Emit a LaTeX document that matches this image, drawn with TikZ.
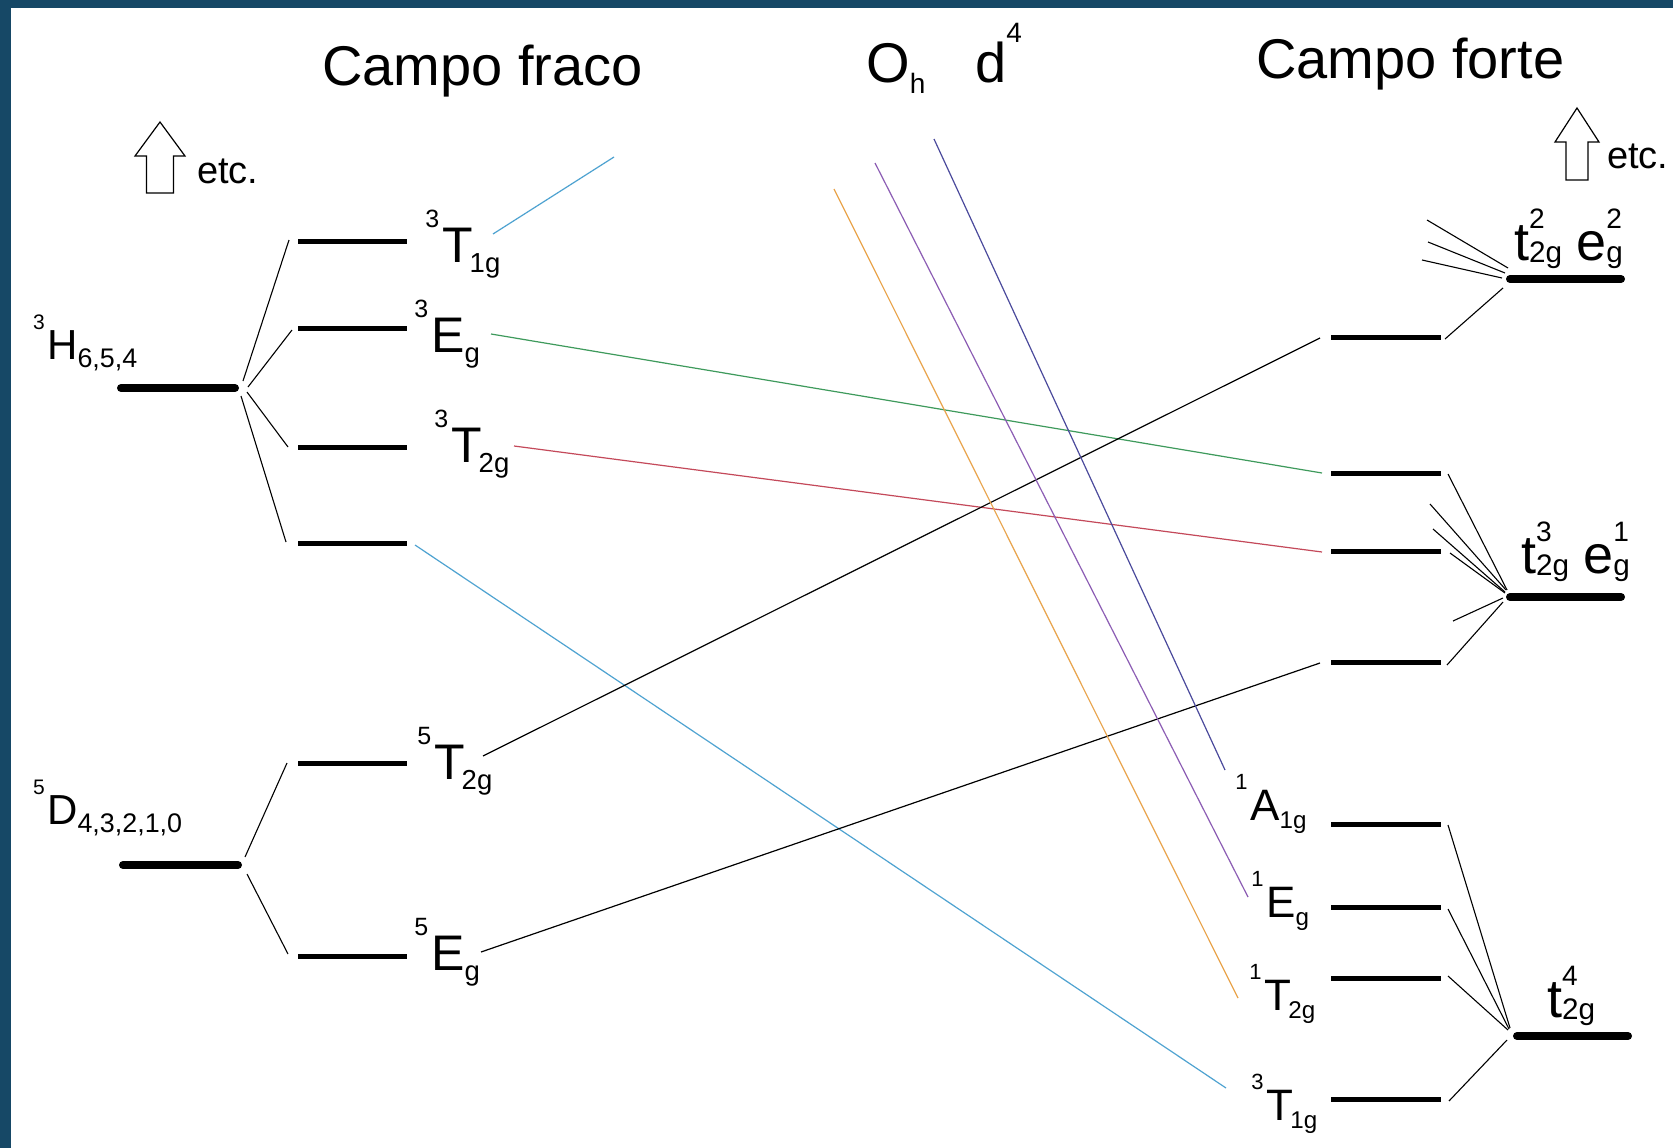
\documentclass[tikz,border=0pt]{standalone}
\usepackage{fontspec}
\setmainfont{Liberation Sans}
\usepackage{graphicx}
\definecolor{frame}{HTML}{164866}
\definecolor{lcyan}{HTML}{4FA3D1}
\definecolor{lgreen}{HTML}{3E9A5C}
\definecolor{lred}{HTML}{C4495A}
\definecolor{lorange}{HTML}{E9A44C}
\definecolor{lpurple}{HTML}{8C5DB4}
\definecolor{lslate}{HTML}{4B4A9C}
\newcommand{\subsc}{0.55}
\newcommand{\Lb}[4][0em]{\llap{\raisebox{0.7em}{\scalebox{0.5}{#2}}\kern0.06em}#3\kern#1\raisebox{-0.2em}{\scalebox{\subsc}{#4}}}
\newcommand{\St}[2]{\rlap{\raisebox{0.58em}{\scalebox{0.52}{#1}}}\raisebox{-0.05em}{\scalebox{0.55}{#2}}}
\newcommand{\fsz}[1]{\fontsize{#1}{#1}\selectfont}
\begin{document}
\begin{tikzpicture}[x=1pt,y=-1pt,
  lvl/.style={line width=5pt},
  gnd/.style={line width=8pt,line cap=round},
  fan/.style={line width=1.1pt},
  corr/.style={line width=1.2pt},
  lbl/.style={inner sep=0pt,anchor=base west},
  lab/.style={lbl,font=\fsz{50}},
  labr/.style={lbl,font=\fsz{44}},
  term/.style={lbl,font=\fsz{42}\renewcommand{\subsc}{0.64}},
  sfl/.style={lbl,font=\fsz{54}},
  ttl/.style={lbl,font=\fsz{56}},
  etcs/.style={lbl,font=\fsz{38}},
  hollow/.style={line width=1.2pt,fill=white,line join=miter},
]
\useasboundingbox (0,0) rectangle (1673,1148);
\fill[white] (0,0) rectangle (1673,1148);
\fill[frame] (0,0) rectangle (1673,8);
\fill[frame] (0,0) rectangle (11,1148);

% titles
\node[ttl] (tfraco) at (322,85) {Campo fraco};
\node[ttl] (toh) at (866,82) {O\raisebox{-0.2em}{\scalebox{0.5}{h}}\hspace{50pt}d\raisebox{0.7em}{\scalebox{0.5}{4}}};
\node[ttl] (tforte) at (1256,78) {Campo forte};

% up arrows
\draw[hollow] (160,122) -- (185,156) -- (173.5,156) -- (173.5,193) -- (146.5,193) -- (146.5,156) -- (135,156) -- cycle;
\node[etcs] (etcL) at (197,183) {etc.};
\draw[hollow] (1577,108) -- (1599,142) -- (1588,142) -- (1588,180) -- (1566,180) -- (1566,142) -- (1555,142) -- cycle;
\node[etcs] (etcR) at (1607,168) {etc.};

% free-ion terms
\coordinate (Ha) at (121,388); \coordinate (Hb) at (235,388);
\coordinate (Da) at (123,865); \coordinate (Db) at (238,865);
\draw[gnd] (Ha) -- (Hb);
\draw[gnd] (Da) -- (Db);
\node[term] (lH) at (47,359) {\Lb{3}{H}{6,5,4}};
\node[term] (lD) at (47,824) {\Lb{5}{D}{4,3,2,1,0}};

% weak-field levels
\foreach \n/\y in {wA/241,wB/328,wC/447,wD/543,wE/763,wF/956} {
  \coordinate (\n-l) at (298,\y); \coordinate (\n-r) at (407,\y);
  \draw[lvl] (\n-l) -- (\n-r);
}
\node[lab] (lwA) at (442,262) {\Lb[-0.06em]{3}{T}{1g}};
\node[lab] (lwB) at (431,352) {\Lb{3}{E}{g}};
\node[lab] (lwC) at (451,462) {\Lb[-0.06em]{3}{T}{2g}};
\node[lab] (lwE) at (434,779) {\Lb[-0.06em]{5}{T}{2g}};
\node[lab] (lwF) at (431,970) {\Lb{5}{E}{g}};

% weak-field fans
\draw[fan] ([shift={(8,-7)}]Hb) -- ([shift={(-9,-1)}]wA-l);
\draw[fan] ([shift={(13,-1)}]Hb) -- ([shift={(-6,2)}]wB-l);
\draw[fan] ([shift={(12,4)}]Hb) -- ([shift={(-10,0)}]wC-l);
\draw[fan] ([shift={(6,8)}]Hb) -- ([shift={(-12,-1)}]wD-l);
\draw[fan] ([shift={(7,-8)}]Db) -- ([shift={(-11,0)}]wE-l);
\draw[fan] ([shift={(9,9)}]Db) -- ([shift={(-10,-2)}]wF-l);

% strong-field intermediate levels
\foreach \n/\y in {rA/337,rB/473,rC/551,rD/662,rE/824,rF/907,rG/978,rH/1099} {
  \coordinate (\n-l) at (1331,\y); \coordinate (\n-r) at (1441,\y);
  \draw[lvl] (\n-l) -- (\n-r);
}
\node[labr] (lrE) at (1250,820) {\Lb{1}{A}{1g}};
\node[labr] (lrF) at (1266,917) {\Lb{1}{E}{g}};
\node[labr] (lrG) at (1264,1010) {\Lb[-0.06em]{1}{T}{2g}};
\node[labr] (lrH) at (1266,1120) {\Lb[-0.06em]{3}{T}{1g}};

% strong-field configurations
\coordinate (s1-l) at (1510,279); \coordinate (s1-r) at (1621,279);
\coordinate (s2-l) at (1510,597); \coordinate (s2-r) at (1621,597);
\coordinate (s3-l) at (1517,1036); \coordinate (s3-r) at (1628,1036);
\draw[gnd] (s1-l) -- (s1-r);
\draw[gnd] (s2-l) -- (s2-r);
\draw[gnd] (s3-l) -- (s3-r);
\node[sfl] (ls1) at (1514,260) {t\St{2}{2g}\hspace{14pt}e\St{2}{g}};
\node[sfl] (ls2) at (1521,573) {t\St{3}{2g}\hspace{14pt}e\St{1}{g}};
\node[sfl] (ls3) at (1547,1017) {t\St{4}{2g}};

% strong-field fans
\coordinate (f1) at (1427,220); \coordinate (f2) at (1428,242); \coordinate (f3) at (1422,260);
\draw[fan] ([shift={(-2,-11)}]s1-l) -- (f1);
\draw[fan] ([shift={(-5,-6)}]s1-l) -- (f2);
\draw[fan] ([shift={(-8,-1)}]s1-l) -- (f3);
\draw[fan] ([shift={(-7,9)}]s1-l) -- ([shift={(4,2)}]rA-r);
\coordinate (f4) at (1430,504); \coordinate (f5) at (1433,529); \coordinate (f6) at (1453,621);
\draw[fan] ([shift={(7,1)}]rB-r) -- ([shift={(-3,-7)}]s2-l);
\draw[fan] (f4) -- ([shift={(-4,-7)}]s2-l);
\draw[fan] (f5) -- ([shift={(-5,-5)}]s2-l);
\draw[fan] ([shift={(9,2)}]rC-r) -- ([shift={(-5,-4)}]s2-l);
\draw[fan] (f6) -- ([shift={(-7,1)}]s2-l);
\draw[fan] ([shift={(6,3)}]rD-r) -- ([shift={(-7,5)}]s2-l);
\draw[fan] ([shift={(7,1)}]rE-r) -- ([shift={(-7,-8)}]s3-l);
\draw[fan] ([shift={(7,2)}]rF-r) -- ([shift={(-8,-7)}]s3-l);
\draw[fan] ([shift={(7,-2)}]rG-r) -- ([shift={(-9,-6)}]s3-l);
\draw[fan] ([shift={(8,2)}]rH-r) -- ([shift={(-10,4)}]s3-l);

% correlation lines
\coordinate (c1a) at (493,234); \coordinate (c1b) at (614,157);
\coordinate (c2a) at (491,334);
\coordinate (c3a) at (514,446);
\coordinate (c5a) at (483,756);
\coordinate (c6a) at (481,952);
\coordinate (c4b) at (1226,1088);
\coordinate (o1) at (834,189); \coordinate (o2) at (1238,998);
\coordinate (p1) at (875,163); \coordinate (p2) at (1248,897);
\coordinate (q1) at (934,139); \coordinate (q2) at (1225,770);
\draw[corr,lcyan] (c1a) -- (c1b);
\draw[corr,lgreen] (c2a) -- ([shift={(-9,0)}]rB-l);
\draw[corr,lred] (c3a) -- ([shift={(-9,1)}]rC-l);
\draw[corr,lcyan] ([shift={(8,2)}]wD-r) -- (c4b);
\draw[corr,black] (c5a) -- ([shift={(-11,1)}]rA-l);
\draw[corr,black] (c6a) -- ([shift={(-11,1)}]rD-l);
\draw[corr,lorange] (o1) -- (o2);
\draw[corr,lpurple] (p1) -- (p2);
\draw[corr,lslate] (q1) -- (q2);
\end{tikzpicture}
\end{document}
